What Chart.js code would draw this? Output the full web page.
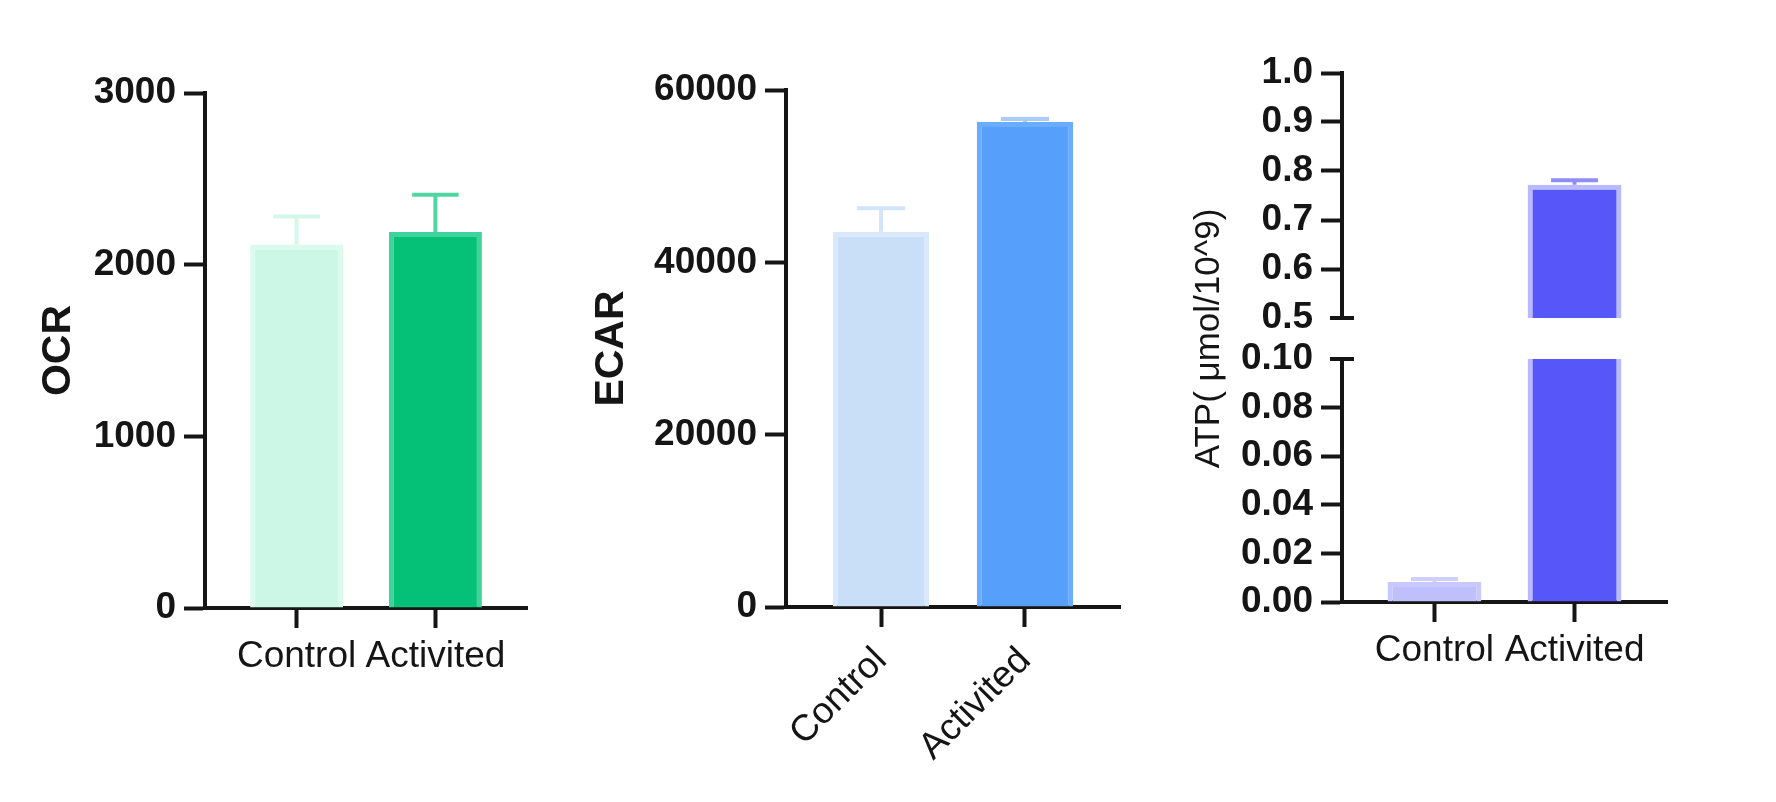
<!DOCTYPE html>
<html>
<head>
<meta charset="utf-8">
<script src="https://cdn.jsdelivr.net/npm/chart.js@4.4.1/dist/chart.umd.min.js"></script>
<style>
  html, body { margin: 0; padding: 0; background: #fff; }
  #wrap { position: relative; width: 1776px; height: 802px; overflow: hidden; }
  canvas { position: absolute; top: 0; }
</style>
</head>
<body>
<div id="wrap">
  <canvas id="ocr" width="560" height="802" style="left:0"></canvas>
  <canvas id="ecar" width="600" height="802" style="left:560px"></canvas>
  <canvas id="atp" width="616" height="802" style="left:1160px"></canvas>
</div>
<script>
const categories = ['Control', 'Activited'];

const ocrValues = [2117, 2190];
const ocrErrors = [164, 217];
const ocrTicks = [0, 1000, 2000, 3000];

const ecarValues = [43545, 56300];
const ecarErrors = [2745, 340];
const ecarTicks = [0, 20000, 40000, 60000];

const atpValues = [0.0082, 0.772];
const atpErrors = [0.0013, 0.009];
const atpTopTicks = [0.5, 0.6, 0.7, 0.8, 0.9, 1.0];
const atpBottomTicks = [0, 0.02, 0.04, 0.06, 0.08, 0.10];

const FONT = "'Liberation Sans', Arial, sans-serif";
const INK = '#151515';

Chart.defaults.font.family = FONT;
Chart.defaults.color = INK;

// mean + error whiskers, drawn with the dataset's own y scale
const errorBars = {
    id: 'errorBars',
    afterDatasetsDraw(chart) {
        const ctx = chart.ctx;
        chart.data.datasets.forEach((ds, di) => {
            if (!ds.errors) return;
            const meta = chart.getDatasetMeta(di);
            const yScale = chart.scales[meta.yAxisID];
            ctx.save();
            ctx.beginPath();
            ctx.rect(chart.chartArea.left, yScale.top, chart.chartArea.width, yScale.bottom - yScale.top);
            ctx.clip();
            meta.data.forEach((bar, i) => {
                const v = ds.data[i].y;
                if (v == null) return;
                const top = yScale.getPixelForValue(v + ds.errors[i]);
                const half = bar.width / 4;
                ctx.strokeStyle = ds.errorColors[i];
                ctx.lineWidth = 4;
                ctx.beginPath();
                ctx.moveTo(bar.x, bar.y);
                ctx.lineTo(bar.x, top);
                ctx.moveTo(bar.x - half, top);
                ctx.lineTo(bar.x + half, top);
                ctx.stroke();
            });
            ctx.restore();
        });
    }
};

// keep each dataset inside the band of its own y axis (broken axis)
const axisClip = {
    id: 'axisClip',
    beforeDatasetDraw(chart, args) {
        const yScale = chart.scales[args.meta.yAxisID];
        const ctx = chart.ctx;
        ctx.save();
        ctx.beginPath();
        ctx.rect(chart.chartArea.left, yScale.top, chart.chartArea.width, yScale.bottom - yScale.top);
        ctx.clip();
    },
    afterDatasetDraw(chart) {
        chart.ctx.restore();
    }
};

const axisBreak = {
    id: 'axisBreak',
    afterDraw(chart) {
        const { ctx, scales } = chart;
        const x = scales.yTop.right;
        ctx.save();
        ctx.strokeStyle = INK;
        ctx.lineWidth = 4;
        [scales.yTop.bottom, scales.yBottom.top].forEach(y => {
            ctx.beginPath();
            ctx.moveTo(x - 12, y);
            ctx.lineTo(x + 12, y);
            ctx.stroke();
        });
        ctx.restore();
    }
};

function yAxis(ticks, digits, width, hideTick) {
    return {
        type: 'linear',
        position: 'left',
        min: ticks[0],
        max: ticks[ticks.length - 1],
        afterBuildTicks: s => { s.ticks = ticks.map(v => ({ value: v })); },
        afterFit: s => { s.width = width; },
        ticks: {
            callback: v => Number(v).toFixed(digits),
            autoSkip: false,
            font: { size: 37, weight: 'bold' },
            padding: 8,
            color: INK,
        },
        grid: {
            drawOnChartArea: false,
            tickLength: 21,
            tickWidth: 4,
            tickColor: c => (hideTick != null && c.tick && Math.abs(c.tick.value - hideTick) < 1e-9) ? 'rgba(0,0,0,0)' : INK,
        },
        border: { display: true, width: 4, color: INK },
    };
}

function xAxis(height, padding, rotation) {
    return {
        type: 'linear',
        position: 'bottom',
        offset: false,
        min: -0.66,
        max: 1.66,
        afterBuildTicks: s => { s.ticks = categories.map((c, i) => ({ value: i })); },
        afterFit: s => { s.height = height; },
        ticks: {
            callback: v => categories[v],
            autoSkip: false,
            minRotation: rotation,
            maxRotation: rotation,
            padding: padding,
            font: { size: 37 },
            color: INK,
        },
        grid: { offset: false, drawOnChartArea: false, tickLength: 20, tickWidth: 4, tickColor: INK },
        border: { display: true, width: 4, color: INK },
    };
}

function barSet(values, errors, fills, borders, errorColors, extra) {
    return Object.assign({
        data: values.map((v, i) => ({ x: i, y: v })),
        backgroundColor: fills,
        borderColor: borders,
        borderWidth: 5,
        borderSkipped: 'start',
        barPercentage: 0.67,
        categoryPercentage: 1,
        errors: errors,
        errorColors: errorColors,
    }, extra || {});
}

const baseOptions = (padding, scales) => ({
    responsive: false,
    animation: false,
    layout: { padding: padding },
    plugins: { legend: { display: false }, tooltip: { enabled: false } },
    scales: scales,
});

// OCR
const ocrY = yAxis(ocrTicks, 0, 205);
ocrY.title = { display: true, text: 'OCR', font: { size: 41, weight: 'bold' }, padding: { top: 34, bottom: 0 }, color: INK };
new Chart(document.getElementById('ocr'), {
    type: 'bar',
    data: {
        datasets: [barSet(ocrValues, ocrErrors,
            ['#ccf7e6', '#05c077'], ['#dcfbef', '#3fd29a'], ['#d3f8ea', '#4fd6a2'])]
    },
    options: baseOptions({ top: 93, right: 33, bottom: 0, left: 0 }, { x: xAxis(194, 7, 0), y: ocrY }),
    plugins: [errorBars],
});

// ECAR
const ecarY = yAxis(ecarTicks, 0, 226);
ecarY.title = { display: true, text: 'ECAR', font: { size: 41, weight: 'bold' }, padding: { top: 27, bottom: 0 }, color: INK };
new Chart(document.getElementById('ecar'), {
    type: 'bar',
    data: {
        datasets: [barSet(ecarValues, ecarErrors,
            ['#c9def7', '#56a0fc'], ['#d9e8fb', '#6aacfd'], ['#d4e5fb', '#a9cbfd'])]
    },
    options: baseOptions({ top: 90, right: 40, bottom: 0, left: 0 }, { x: xAxis(195, 12, 45), y: ecarY }),
    plugins: [errorBars],
});

// ATP, broken y axis: two stacked value axes with a gap axis carrying the title
const atpBottomY = Object.assign(yAxis(atpBottomTicks, 2, 182, 0.10), { stack: 'atp', stackWeight: 243 });
const atpGapY = {
    type: 'linear', position: 'left', stack: 'atp', stackWeight: 41, min: 0, max: 1,
    afterFit: s => { s.width = 182; },
    ticks: { display: false },
    grid: { display: false },
    border: { display: false },
    title: { display: true, text: 'ATP( μmol/10^9)', font: { size: 35 }, padding: { top: 28, bottom: 0 }, color: INK },
};
const atpTopY = Object.assign(yAxis(atpTopTicks, 1, 182, 0.5), { stack: 'atp', stackWeight: 245 });

const atpFills = ['#bfbffc', '#5757f9'];
const atpBorders = ['#c8c8fd', '#b9b9fe'];
const atpErrColors = ['#cfcffd', '#8e8efb'];
new Chart(document.getElementById('atp'), {
    type: 'bar',
    data: {
        datasets: [
            barSet(atpValues, atpErrors, atpFills, atpBorders, atpErrColors, { yAxisID: 'yBottom', grouped: false }),
            barSet(atpValues, atpErrors, atpFills, atpBorders, atpErrColors, {
                yAxisID: 'yTop', grouped: false,
                data: atpValues.map((v, i) => ({ x: i, y: v > atpTopTicks[0] ? v : null })),
            }),
        ]
    },
    options: baseOptions({ top: 73, right: 109, bottom: 0, left: 0 },
        { x: xAxis(200, 7, 0), yBottom: atpBottomY, yGap: atpGapY, yTop: atpTopY }),
    plugins: [axisClip, errorBars, axisBreak],
});
</script>
</body>
</html>
